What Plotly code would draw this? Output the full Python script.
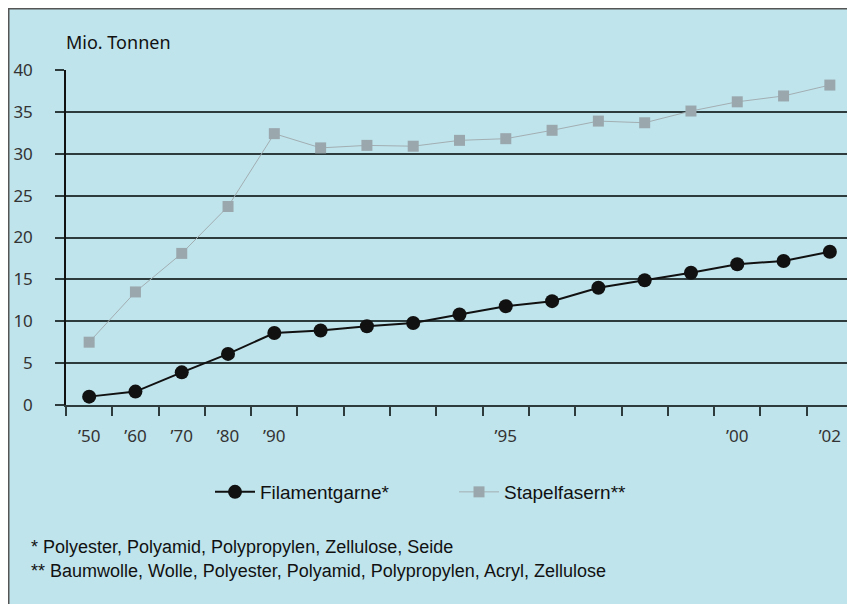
import plotly.graph_objects as go

years = ["1950", "1960", "1970", "1980", "1990", "1991", "1992", "1993", "1994",
         "1995", "1996", "1997", "1998", "1999", "2000", "2001", "2002"]
tick_labels = ["’50", "’60", "’70", "’80", "’90", "", "", "", "",
               "’95", "", "", "", "", "’00", "", "’02"]
filamentgarne = [1.0, 1.6, 3.9, 6.1, 8.6, 8.9, 9.4, 9.8, 10.8,
                 11.8, 12.4, 14.0, 14.9, 15.8, 16.8, 17.2, 18.3]
stapelfasern = [7.5, 13.5, 18.1, 23.7, 32.4, 30.7, 31.0, 30.9, 31.6,
                31.8, 32.8, 33.9, 33.7, 35.1, 36.2, 36.9, 38.2]
y_ticks = [0, 5, 10, 15, 20, 25, 30, 35, 40]
footnotes = ["* Polyester, Polyamid, Polypropylen, Zellulose, Seide",
             "** Baumwolle, Wolle, Polyester, Polyamid, Polypropylen, Acryl, Zellulose"]

# the page body adds an 8px offset; coordinates below are page pixels minus 8
OFF = 8
W, H = 855, 604
L, T = 66 - OFF, 70 - OFF
R = W - (853 - OFF)
B = H - (405 - OFF)
PW, PH = W - L - R, H - T - B


def px(x):
    return (x - OFF - L) / PW


def py(y):
    return (H - B - (y - OFF)) / PH


BG = "#bfe4ec"
GRID = "#2e3b3d"
SANS = "Liberation Sans, Arial, sans-serif"
AXFONT = "Noto Sans, Open Sans, DejaVu Sans, sans-serif"

fig = go.Figure()
fig.add_trace(go.Scatter(
    x=years, y=filamentgarne, name="Filamentgarne*", mode="lines+markers",
    line=dict(color="#111111", width=2),
    marker=dict(symbol="circle", size=14, color="#111111"),
))
fig.add_trace(go.Scatter(
    x=years, y=stapelfasern, name="Stapelfasern**", mode="lines+markers",
    line=dict(color="#a2aeb2", width=1),
    marker=dict(symbol="square", size=11, color="#9aa8ad"),
))

fig.update_layout(
    width=W, height=H,
    margin=dict(l=L, r=R, t=T, b=B, autoexpand=False),
    paper_bgcolor="white",
    plot_bgcolor="rgba(0,0,0,0)",
    font=dict(family=AXFONT, color="#222222"),
    showlegend=True,
    legend=dict(
        orientation="h", xref="container", yref="container",
        x=(210 - OFF) / W, xanchor="left", y=1 - (492 - OFF) / H, yanchor="middle",
        font=dict(family=SANS, size=19, color="#111111"),
        bgcolor="rgba(0,0,0,0)", entrywidth=189, entrywidthmode="pixels",
        itemwidth=40,
    ),
    xaxis=dict(
        type="category", categoryorder="array", categoryarray=years,
        range=[-0.5, len(years) - 0.5], automargin=False,
        tickmode="array", tickvals=years, ticktext=tick_labels,
        tickson="boundaries", ticks="outside", ticklen=9, tickwidth=1.5,
        tickcolor=GRID, showline=True, linecolor=GRID, linewidth=1.5,
        showgrid=False, zeroline=False,
        tickfont=dict(family=AXFONT, size=17, color="#333333"),
        ticklabelstandoff=15,
    ),
    yaxis=dict(
        range=[0, 40], tickvals=y_ticks, ticks="outside", ticklen=9,
        tickwidth=1.5, tickcolor=GRID, automargin=False,
        showgrid=True, gridcolor=GRID, gridwidth=1.5,
        showline=True, linecolor="#111111", linewidth=1.5,
        zeroline=False,
        tickfont=dict(family=AXFONT, size=17, color="#333333"),
        ticklabelstandoff=19,
    ),
    shapes=[
        dict(type="rect", xref="paper", yref="paper", layer="below",
             x0=px(OFF + 0.75), x1=px(W + OFF + 4), y0=py(H + OFF + 4), y1=py(OFF + 0.75),
             fillcolor=BG, line=dict(color="#555555", width=1.5)),
    ],
    annotations=[
        dict(text="Mio. Tonnen", xref="paper", yref="paper", x=px(64), y=py(42),
             xanchor="left", yanchor="middle", showarrow=False,
             font=dict(family=AXFONT, size=18, color="#111111")),
        dict(text=footnotes[0], xref="paper", yref="paper", x=px(29), y=py(547),
             xanchor="left", yanchor="middle", showarrow=False,
             font=dict(family=SANS, size=18, color="#111111")),
        dict(text=footnotes[1], xref="paper", yref="paper", x=px(29), y=py(571),
             xanchor="left", yanchor="middle", showarrow=False,
             font=dict(family=SANS, size=18, color="#111111")),
    ],
)

fig.write_html("out.html")
